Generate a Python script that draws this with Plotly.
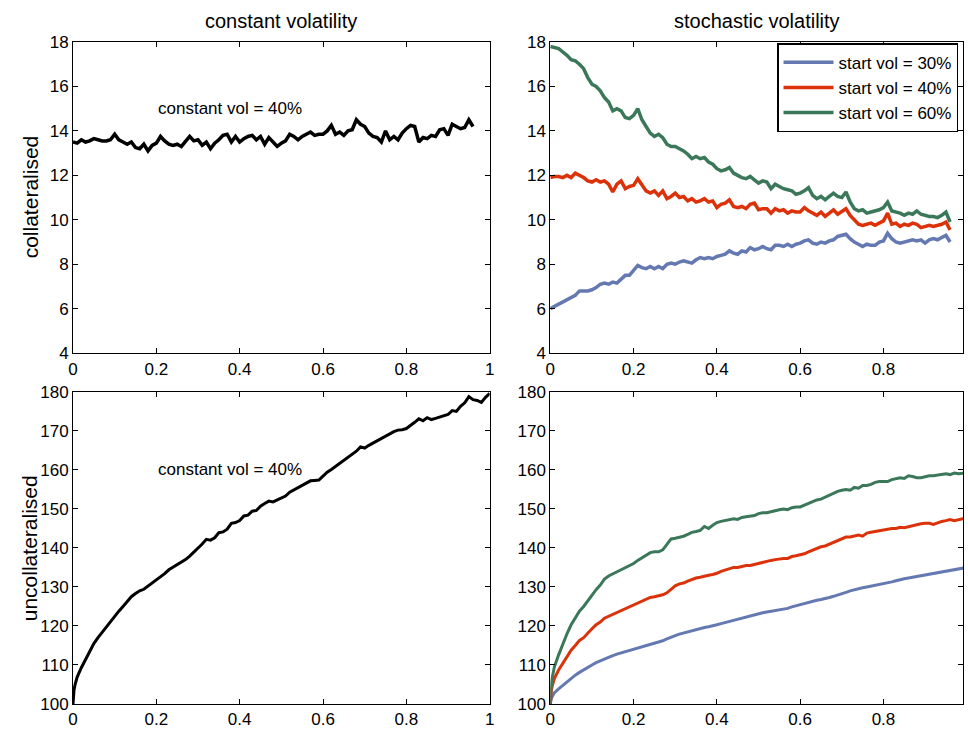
import plotly.graph_objects as go

# ---------------- data ----------------
# time grids
t_top = [i / 100 for i in range(97)]                               # 0 .. 0.96
t_bot = [0, 0.001, 0.0025, 0.005, 0.0075] + [i / 100 for i in range(1, 101)]  # 0 .. 1.00

# top-left: collateralised, constant vol = 40%
col_const = [13.5, 13.45, 13.6, 13.5, 13.55, 13.65, 13.6, 13.55, 13.55, 13.6,
             13.85, 13.6, 13.5, 13.4, 13.5, 13.25, 13.2, 13.4, 13.1, 13.35,
             13.45, 13.75, 13.55, 13.4, 13.35, 13.4, 13.3, 13.55, 13.75, 13.55,
             13.6, 13.35, 13.5, 13.2, 13.45, 13.6, 13.8, 13.85, 13.5, 13.75,
             13.5, 13.65, 13.75, 13.8, 13.6, 13.75, 13.4, 13.7, 13.5, 13.3,
             13.45, 13.55, 13.85, 13.75, 13.6, 13.75, 13.85, 13.95, 13.8, 13.85,
             13.85, 14.0, 14.25, 13.85, 13.95, 13.8, 14.0, 14.05, 14.5, 14.3,
             14.2, 13.9, 13.75, 13.7, 13.5, 14.0, 13.6, 13.75, 13.6, 13.9,
             14.1, 14.25, 14.2, 13.5, 13.7, 13.65, 13.8, 13.75, 14.05, 14.1,
             13.8, 14.3, 14.2, 14.1, 14.15, 14.5, 14.2]

# top-right: collateralised, stochastic vol
col_sv30 = [6.0, 6.1, 6.2, 6.3, 6.4, 6.5, 6.6, 6.8, 6.8, 6.8,
            6.85, 6.95, 7.1, 7.15, 7.1, 7.2, 7.15, 7.35, 7.5, 7.5,
            7.7, 7.95, 7.85, 7.8, 7.9, 7.8, 7.9, 7.8, 8.0, 8.05,
            8.0, 8.1, 8.15, 8.1, 8.05, 8.2, 8.3, 8.25, 8.3, 8.25,
            8.35, 8.4, 8.45, 8.6, 8.5, 8.45, 8.6, 8.55, 8.75, 8.65,
            8.7, 8.8, 8.7, 8.65, 8.85, 8.85, 8.8, 8.9, 8.8, 8.9,
            8.95, 9.05, 9.1, 8.95, 8.9, 9.0, 8.95, 9.05, 9.1, 9.25,
            9.3, 9.35, 9.15, 9.0, 8.9, 8.8, 8.9, 8.85, 8.85, 9.0,
            9.05, 9.4, 9.15, 9.0, 8.95, 9.0, 9.05, 9.1, 9.05, 9.1,
            8.95, 9.1, 9.15, 9.1, 9.2, 9.3, 9.0]
col_sv40 = [11.9, 11.95, 11.95, 11.9, 12.0, 11.9, 12.1, 12.0, 11.9, 11.75,
            11.7, 11.8, 11.7, 11.75, 11.6, 11.25, 11.6, 11.75, 11.4, 11.5,
            11.55, 11.85, 11.6, 11.3, 11.2, 11.3, 11.1, 11.3, 10.95, 11.05,
            11.2, 11.0, 11.05, 10.85, 10.95, 10.8, 10.85, 10.95, 10.8, 10.85,
            10.55, 10.7, 10.75, 10.9, 10.6, 10.55, 10.6, 10.5, 10.7, 10.75,
            10.45, 10.5, 10.5, 10.3, 10.5, 10.4, 10.45, 10.3, 10.4, 10.35,
            10.35, 10.55, 10.4, 10.3, 10.2, 10.35, 10.15, 10.3, 10.45, 10.25,
            10.4, 10.5, 10.2, 10.0, 9.8, 9.75, 9.8, 9.85, 9.75, 9.85,
            9.95, 10.3, 9.8, 9.85, 9.7, 9.8, 9.75, 9.85, 9.8, 9.65,
            9.7, 9.75, 9.7, 9.75, 9.8, 9.9, 9.55]
col_sv60 = [17.8, 17.75, 17.7, 17.55, 17.4, 17.2, 17.15, 17.0, 16.8, 16.4,
            16.1, 16.0, 15.8, 15.5, 15.3, 14.9, 15.0, 14.9, 14.6, 14.55,
            14.7, 15.0, 14.5, 14.2, 13.9, 13.75, 13.85, 13.7, 13.4, 13.3,
            13.3, 13.2, 13.1, 12.95, 12.75, 12.85, 12.75, 12.8, 12.6, 12.5,
            12.3, 12.2, 12.25, 12.35, 12.1, 12.0, 11.9, 11.85, 11.95, 11.8,
            11.65, 11.75, 11.7, 11.4, 11.6, 11.5, 11.4, 11.35, 11.3, 11.15,
            11.2, 11.3, 11.45, 11.1, 10.95, 11.05, 10.9, 11.05, 11.2, 11.05,
            11.0, 11.25, 10.8, 10.5, 10.4, 10.45, 10.3, 10.35, 10.4, 10.45,
            10.55, 10.8, 10.4, 10.35, 10.3, 10.2, 10.3, 10.25, 10.4, 10.25,
            10.2, 10.15, 10.15, 10.1, 10.2, 10.35, 9.9]

# bottom-left: uncollateralised, constant vol = 40%
unc_const = [100.0, 102.3, 103.6, 105.0, 106.0,
             106.9, 109.3, 111.5, 113.6, 115.5, 117.0, 118.4, 119.7, 121.0, 122.6,
             123.8, 125.0, 126.4, 127.5, 128.3, 129.0, 129.4, 130.2, 130.9, 131.7,
             132.5, 133.4, 134.4, 135.0, 135.7, 136.4, 137.0, 137.9, 138.9, 139.8,
             141.0, 142.2, 142.0, 142.6, 143.9, 144.1, 144.8, 146.3, 146.5, 147.0,
             148.2, 148.4, 149.4, 149.6, 150.7, 151.4, 152.0, 151.8, 152.3, 152.9,
             153.3, 154.3, 154.9, 155.3, 155.9, 156.6, 157.2, 157.3, 157.4, 158.4,
             159.4, 160.1, 160.9, 161.6, 162.5, 163.4, 164.2, 164.8, 165.9, 165.6,
             166.3, 166.9, 167.4, 168.1, 168.8, 169.3, 169.8, 170.2, 170.3, 170.6,
             171.3, 172.2, 173.1, 172.6, 173.4, 172.9, 173.2, 173.6, 173.8, 174.2,
             175.2, 175.0, 176.3, 177.2, 178.8, 178.0, 177.8, 177.3, 178.6, 179.6]

# bottom-right: uncollateralised, stochastic vol
unc_sv30 = [100.0, 100.8, 101.4, 102.0, 102.5,
            102.9, 103.9, 104.8, 105.7, 106.6, 107.4, 108.1, 108.8, 109.4, 110.0,
            110.6, 111.1, 111.6, 112.0, 112.4, 112.8, 113.1, 113.5, 113.8, 114.1,
            114.4, 114.7, 115.0, 115.3, 115.6, 115.9, 116.2, 116.7, 117.2, 117.5,
            117.9, 118.2, 118.5, 118.7, 119.0, 119.3, 119.6, 119.8, 120.0, 120.3,
            120.6, 120.9, 121.2, 121.5, 121.7, 122.0, 122.2, 122.5, 122.8, 123.1,
            123.4, 123.6, 123.8, 124.0, 124.2, 124.3, 124.5, 124.9, 125.2, 125.5,
            125.7, 126.0, 126.3, 126.6, 126.8, 127.0, 127.3, 127.6, 127.9, 128.2,
            128.6, 129.0, 129.3, 129.6, 129.8, 130.0, 130.2, 130.4, 130.6, 130.8,
            131.0, 131.3, 131.6, 131.9, 132.1, 132.3, 132.5, 132.7, 132.9, 133.0,
            133.2, 133.5, 133.7, 133.8, 134.0, 134.2, 134.5, 134.7, 134.9, 135.0]
unc_sv40 = [100.0, 102.0, 103.5, 104.8, 105.8,
            106.6, 108.7, 110.5, 112.3, 113.8, 115.0, 116.3, 117.0, 118.3, 119.3,
            120.3, 121.0, 122.0, 122.5, 122.8, 123.3, 123.8, 124.3, 124.8, 125.3,
            125.8, 126.3, 126.8, 127.3, 127.5, 127.8, 128.0, 128.5, 129.5, 130.3,
            130.8, 131.0, 131.5, 132.0, 132.3, 132.5, 132.8, 133.0, 133.2, 133.5,
            134.0, 134.3, 134.7, 135.0, 135.0, 135.3, 135.5, 135.5, 135.8, 136.0,
            136.3, 136.5, 136.8, 137.0, 137.2, 137.3, 137.3, 137.8, 138.0, 138.2,
            138.5, 139.0, 139.5, 140.0, 140.3, 140.5, 141.0, 141.5, 142.0, 142.3,
            142.8, 142.8, 143.0, 143.3, 143.0, 143.8, 144.0, 144.2, 144.3, 144.5,
            144.8, 145.0, 145.0, 145.3, 145.2, 145.5, 145.8, 146.0, 146.2, 146.3,
            146.3, 146.0, 146.5, 146.8, 147.0, 147.3, 147.0, 147.3, 147.5, 147.3]
unc_sv60 = [100.0, 103.0, 105.0, 107.0, 108.5,
            109.6, 112.6, 115.5, 118.0, 120.3, 122.0, 123.8, 125.0, 126.5, 128.0,
            129.3, 130.5, 132.0, 132.8, 133.3, 133.8, 134.5, 135.0, 135.3, 136.0,
            136.8, 137.5, 138.0, 138.8, 139.0, 139.0, 139.5, 140.8, 142.3, 142.5,
            142.8, 143.0, 143.5, 144.0, 144.2, 144.5, 145.5, 145.0, 145.8, 146.5,
            146.8, 147.0, 147.3, 147.5, 147.3, 147.8, 148.0, 148.2, 148.3, 148.8,
            149.0, 149.0, 149.3, 149.5, 149.8, 150.0, 149.8, 150.3, 150.5, 150.5,
            151.0, 151.5, 152.0, 152.3, 152.5, 153.0, 153.5, 153.8, 154.5, 154.8,
            155.0, 154.8, 155.5, 155.3, 156.0, 156.0, 156.3, 156.8, 157.0, 157.0,
            157.0, 157.5, 157.8, 158.0, 157.8, 158.5, 158.3, 158.0, 158.0, 158.3,
            158.5, 158.5, 158.7, 158.8, 159.0, 158.8, 159.2, 159.0, 159.2, 159.3]

legend_names = ["start vol = 30%", "start vol = 40%", "start vol = 60%"]
subplot_titles = ["constant volatility", "stochastic volatility"]
row_titles = ["collateralised", "uncollateralised"]
note_text = "constant vol = 40%"

C_BLUE = "#6478b2"
C_RED = "#dc320a"
C_GREEN = "#3b785a"
FONT = "Liberation Sans, Arial, Helvetica, sans-serif"

# ---------------- figure ----------------
fig = go.Figure()

fig.add_trace(go.Scatter(x=t_top, y=col_const, mode="lines", xaxis="x", yaxis="y",
                         line=dict(color="black", width=3.5), showlegend=False))
for ys, c, n in zip([col_sv30, col_sv40, col_sv60], [C_BLUE, C_RED, C_GREEN], legend_names):
    fig.add_trace(go.Scatter(x=t_top, y=ys, mode="lines", xaxis="x2", yaxis="y2",
                             line=dict(color=c, width=3.5), name=n, showlegend=True))
fig.add_trace(go.Scatter(x=t_bot, y=unc_const, mode="lines", xaxis="x3", yaxis="y3",
                         line=dict(color="black", width=3), showlegend=False))
for ys, c, n in zip([unc_sv30, unc_sv40, unc_sv60], [C_BLUE, C_RED, C_GREEN], legend_names):
    fig.add_trace(go.Scatter(x=t_bot, y=ys, mode="lines", xaxis="x4", yaxis="y4",
                             line=dict(color=c, width=3), name=n, showlegend=False))

axis_common = dict(showline=True, linecolor="black", linewidth=1, mirror="ticks",
                   ticks="inside", ticklen=5, tickcolor="black", tickwidth=1,
                   showgrid=False, zeroline=False,
                   tickfont=dict(family=FONT, size=17, color="black"))

left_dom = [0.0, 0.4682]
right_dom = [0.5363, 1.0]
top_dom = [0.530, 1.0]
bot_dom = [0.0, 0.4715]

xt = [0, 0.2, 0.4, 0.6, 0.8, 1.0]
xt_lbl = ["0", "0.2", "0.4", "0.6", "0.8", "1"]

fig.update_layout(
    width=968, height=729,
    margin=dict(l=73, r=0, t=42, b=21),
    paper_bgcolor="white", plot_bgcolor="white",
    font=dict(family=FONT, size=17, color="black"),
    xaxis=dict(domain=left_dom, anchor="y", range=[0, 1], tickvals=xt, ticktext=xt_lbl, **axis_common),
    yaxis=dict(domain=top_dom, anchor="x", range=[4, 18], dtick=2, **axis_common),
    xaxis2=dict(domain=right_dom, anchor="y2", range=[0, 0.991], tickvals=xt, ticktext=xt_lbl, **axis_common),
    yaxis2=dict(domain=top_dom, anchor="x2", range=[4, 18], dtick=2, **axis_common),
    xaxis3=dict(domain=left_dom, anchor="y3", range=[0, 1], tickvals=xt, ticktext=xt_lbl, **axis_common),
    yaxis3=dict(domain=bot_dom, anchor="x3", range=[100, 180], dtick=10, **axis_common),
    xaxis4=dict(domain=right_dom, anchor="y4", range=[0, 0.991], tickvals=xt, ticktext=xt_lbl, **axis_common),
    yaxis4=dict(domain=bot_dom, anchor="x4", range=[100, 180], dtick=10, **axis_common),
    legend=dict(x=0.9944, xanchor="right", y=0.998, yanchor="top",
                bgcolor="white", bordercolor="black", borderwidth=1.5,
                font=dict(family=FONT, size=17, color="black"),
                tracegroupgap=0, itemwidth=50),
)

ann = []
ann.append(dict(text=subplot_titles[0], xref="paper", yref="paper",
                x=sum(left_dom) / 2, y=1.0315, xanchor="center", yanchor="middle",
                showarrow=False, font=dict(size=20)))
ann.append(dict(text=subplot_titles[1], xref="paper", yref="paper",
                x=sum(right_dom) / 2, y=1.0315, xanchor="center", yanchor="middle",
                showarrow=False, font=dict(size=20)))
ann.append(dict(text=row_titles[0], xref="paper", yref="paper",
                x=-0.048, y=0.7658, xanchor="center", yanchor="middle", textangle=-90,
                showarrow=False, font=dict(size=21)))
ann.append(dict(text=row_titles[1], xref="paper", yref="paper",
                x=-0.048, y=0.2357, xanchor="center", yanchor="middle", textangle=-90,
                showarrow=False, font=dict(size=21)))
ann.append(dict(text=note_text, xref="x", yref="y", x=0.2, y=15.0,
                xanchor="left", yanchor="middle", showarrow=False, font=dict(size=17)))
ann.append(dict(text=note_text, xref="x3", yref="y3", x=0.2, y=160.0,
                xanchor="left", yanchor="middle", showarrow=False, font=dict(size=17)))
fig.update_layout(annotations=ann)

fig.write_html("out.html")
